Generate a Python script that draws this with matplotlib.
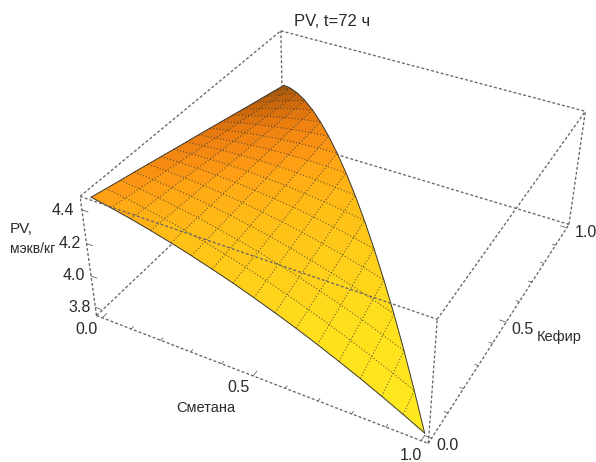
import numpy as np
import matplotlib
matplotlib.use("Agg")
import matplotlib.pyplot as plt
from mpl_toolkits.mplot3d import proj3d
from mpl_toolkits.mplot3d.art3d import Poly3DCollection

plt.rcParams["font.family"] = ["Liberation Sans", "DejaVu Sans"]

# PV over the triangle smetana + kefir <= 1, rows are kefir = j/16, entries smetana = i/16
pv_rows = [
    [4.462, 4.439, 4.414, 4.385, 4.354, 4.320, 4.283, 4.244, 4.201, 4.156, 4.108, 4.057, 4.003, 3.947, 3.887, 3.825, 3.760],
    [4.442, 4.424, 4.403, 4.380, 4.353, 4.324, 4.292, 4.257, 4.220, 4.179, 4.136, 4.090, 4.041, 3.989, 3.935, 3.877],
    [4.422, 4.409, 4.393, 4.374, 4.353, 4.328, 4.301, 4.271, 4.238, 4.203, 4.164, 4.123, 4.079, 4.032, 3.982],
    [4.403, 4.394, 4.383, 4.369, 4.352, 4.333, 4.310, 4.285, 4.257, 4.226, 4.192, 4.156, 4.117, 4.075],
    [4.383, 4.379, 4.373, 4.364, 4.352, 4.337, 4.319, 4.299, 4.276, 4.249, 4.221, 4.189, 4.154],
    [4.363, 4.364, 4.363, 4.358, 4.351, 4.341, 4.328, 4.313, 4.294, 4.273, 4.249, 4.222],
    [4.343, 4.349, 4.352, 4.353, 4.350, 4.345, 4.337, 4.326, 4.313, 4.296, 4.277],
    [4.323, 4.334, 4.342, 4.347, 4.350, 4.350, 4.346, 4.340, 4.331, 4.320],
    [4.304, 4.319, 4.332, 4.342, 4.349, 4.354, 4.355, 4.354, 4.350],
    [4.284, 4.304, 4.322, 4.337, 4.349, 4.358, 4.364, 4.368],
    [4.264, 4.289, 4.312, 4.331, 4.348, 4.362, 4.373],
    [4.244, 4.274, 4.301, 4.326, 4.348, 4.366],
    [4.224, 4.259, 4.291, 4.320, 4.347],
    [4.204, 4.244, 4.281, 4.315],
    [4.185, 4.229, 4.271],
    [4.165, 4.214],
    [4.145],
]
n = len(pv_rows) - 1

x_ticks = [0.0, 0.5, 1.0]
y_ticks = [0.0, 0.5, 1.0]
z_ticks = [3.8, 4.0, 4.2, 4.4]
x_lim = (-0.02, 1.02)
y_lim = (-0.02, 1.02)
z_lim = (3.745, 4.477)

W, H = 596, 462
L, B, S = 80.4, -14.6, 516.1
scale = S / 0.185

fig = plt.figure(figsize=(W / 100, H / 100), dpi=100)
ax = fig.add_axes([L / W, B / H, S / W, S / H], projection="3d")
ax.set_xlim(*x_lim)
ax.set_ylim(*y_lim)
ax.set_zlim(*z_lim)
ax.view_init(36.09, -62.78, -0.82)
ax.set_proj_type("persp", focal_length=0.45)
ax.set_box_aspect((1, 1.022, 0.401))
ax.set_axis_off()
ax.computed_zorder = False
ax.patch.set_alpha(0)

# colour goes with height on the page, tilted a little to the right
stop_y = [119, 140, 158, 196, 205, 251, 378, 495]
stop_r = [160, 205, 235, 255, 255, 255, 255, 255]
stop_g = [85, 105, 125, 155, 165, 190, 225, 235]
stop_b = [10, 10, 15, 20, 20, 22, 28, 30]


def shade(px, py, pz):
    u, v, _ = proj3d.proj_transform(px, py, pz, ax.get_proj())
    sx = L + (u + 0.095) * scale
    sy = H - B - (v + 0.095) * scale
    y = sy + 0.18 * (sx - 89)
    return [np.interp(y, stop_y, c) / 255 for c in (stop_r, stop_g, stop_b)]


def cell(*ij):
    return [(i / n, j / n, pv_rows[j][i]) for i, j in ij]


polys = []
for j in range(n):
    for i in range(n - j):
        if i + j + 1 < n:
            polys.append(cell((i, j), (i + 1, j), (i + 1, j + 1), (i, j + 1)))
        else:
            polys.append(cell((i, j), (i + 1, j), (i, j + 1)))
colors = [shade(*np.mean(p, axis=0)) for p in polys]
surf = Poly3DCollection(polys, facecolors=colors, edgecolors=colors, linewidths=0.4, zorder=2)
ax.add_collection3d(surf)

mesh_style = dict(color="#2b2b2b", lw=0.8, ls=(0, (1, 1.8)), alpha=0.7, zorder=3)
for k in range(1, n):
    ax.plot([i / n for i in range(n + 1 - k)], [k / n] * (n + 1 - k), pv_rows[k], **mesh_style)
    ax.plot([k / n] * (n + 1 - k), [j / n for j in range(n + 1 - k)], [pv_rows[j][k] for j in range(n + 1 - k)], **mesh_style)

edge_style = dict(color="#3a3a3a", lw=0.7, zorder=3)
ax.plot([i / n for i in range(n + 1)], [0] * (n + 1), pv_rows[0], **edge_style)
ax.plot([0] * (n + 1), [j / n for j in range(n + 1)], [pv_rows[j][0] for j in range(n + 1)], **edge_style)
ax.plot([i / n for i in range(n + 1)], [1 - i / n for i in range(n + 1)], [pv_rows[n - i][i] for i in range(n + 1)], **edge_style)

x0, x1 = x_lim
y0, y1 = y_lim
z0, z1 = z_lim
box_style = dict(color="#666666", lw=0.95, ls=(0, (2.2, 1.6)))
back_edges = [
    ((x0, y0, z0), (x0, y1, z0)),
    ((x0, y1, z0), (x1, y1, z0)),
    ((x0, y1, z0), (x0, y1, z1)),
]
front_edges = [
    ((x0, y0, z1), (x1, y0, z1)),
    ((x0, y0, z1), (x0, y1, z1)),
    ((x0, y1, z1), (x1, y1, z1)),
    ((x1, y0, z1), (x1, y1, z1)),
    ((x0, y0, z0), (x0, y0, z1)),
    ((x1, y0, z0), (x1, y0, z1)),
    ((x1, y1, z0), (x1, y1, z1)),
    ((x0, y0, z0), (x1, y0, z0)),
    ((x1, y0, z0), (x1, y1, z0)),
]
for a, b in back_edges:
    ax.plot(*zip(a, b), zorder=1, **box_style)
for a, b in front_edges:
    ax.plot(*zip(a, b), zorder=4, **box_style)

# tick marks, inward on the bottom face and along the left upright
tick_style = dict(color="#666666", lw=0.6, zorder=4)
for t in np.arange(0, 1.01, 0.1):
    size = 0.02 if round(t * 10) % 5 == 0 else 0.01
    ax.plot([t, t], [y0, y0 + size], [z0, z0], **tick_style)
    ax.plot([x1, x1 - size], [t, t], [z0, z0], **tick_style)
for t in z_ticks:
    ax.plot([x0, x0 + 0.02], [y0, y0], [t, t], **tick_style)


def label(px, py, text, size=11.5):
    fig.text(px / W, 1 - py / H, text, ha="center", va="center", color="#2a2a2a", fontsize=size)


label(332, 22, "PV, t=72 ч", 12)
for t, px, py in zip(z_ticks, [79.5, 73.5, 69.5, 63], [307, 276, 244, 210]):
    label(px, py, f"{t:.1f}")
label(86.5, 329, f"{x_ticks[0]:.1f}")
label(238.5, 388, f"{x_ticks[1]:.1f}")
label(411, 455, f"{x_ticks[2]:.1f}")
label(447.5, 445, f"{y_ticks[0]:.1f}")
label(523, 329, f"{y_ticks[1]:.1f}")
label(585.5, 233, f"{y_ticks[2]:.1f}")
label(206, 408, "Сметана", 10.5)
label(559, 337, "Кефир", 10.5)
label(21.5, 229, "PV,", 11)
label(33, 249, "мэкв/кг", 10)

fig.savefig("out.png", dpi=100)
